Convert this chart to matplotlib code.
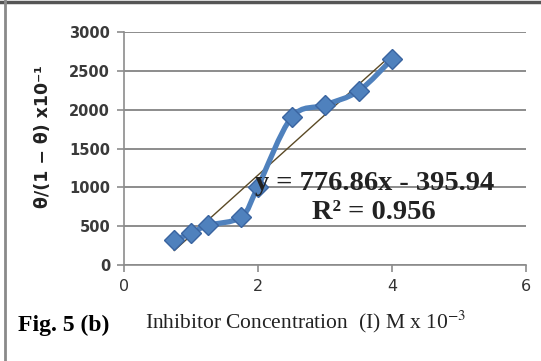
import matplotlib.pyplot as plt
import numpy as np
from matplotlib.path import Path
from matplotlib.patches import PathPatch
from matplotlib.lines import Line2D

# data
conc = [0.75, 1.0, 1.25, 1.75, 2.0, 2.5, 3.0, 3.5, 4.0]
theta_ratio = [320, 410, 510, 620, 1010, 1900, 2060, 2240, 2650]
slope, intercept = 776.86, -395.94
r2 = 0.956

x_ticks = [0, 2, 4, 6]
y_ticks = [0, 500, 1000, 1500, 2000, 2500, 3000]

BLUE = '#4F81BD'
EDGE = '#3A64A0'


def smooth_path(xs, ys):
    """Excel-like smoothed line: Catmull-Rom segments as cubic Beziers."""
    pts = np.column_stack([xs, ys]).astype(float)
    n = len(pts)
    verts = [pts[0]]
    codes = [Path.MOVETO]
    for i in range(n - 1):
        p0 = pts[i - 1] if i > 0 else pts[i]
        p1 = pts[i]
        p2 = pts[i + 1]
        p3 = pts[i + 2] if i + 2 < n else pts[i + 1]
        c1 = p1 + (p2 - p0) / 6.0
        c2 = p2 - (p3 - p1) / 6.0
        verts += [c1, c2, p2]
        codes += [Path.CURVE4] * 3
    return Path(verts, codes)


fig = plt.figure(figsize=(5.41, 3.61), dpi=100)
fig.patch.set_facecolor('white')
ax = fig.add_axes([0.2292, 0.2659, 0.7431, 0.6454])

ax.set_xlim(0, 6)
ax.set_ylim(0, 3000)

# gridlines
ax.set_yticks(y_ticks)
ax.set_xticks(x_ticks)
ax.yaxis.grid(True, color='#8c8c8c', linewidth=1.4)
ax.set_axisbelow(True)

for side in ['top', 'right']:
    ax.spines[side].set_visible(False)
ax.spines['left'].set_color('#8c8c8c')
ax.spines['bottom'].set_color('#8c8c8c')
ax.spines['left'].set_linewidth(1.2)
ax.spines['bottom'].set_linewidth(1.2)

ax.tick_params(axis='y', direction='out', length=5, color='#8c8c8c', width=1.2,
               labelsize=10.5, labelcolor='#3a3a3a', pad=5)
ax.tick_params(axis='x', direction='out', length=5, color='#8c8c8c', width=1.2,
               labelsize=11.5, labelcolor='#333333', pad=5)
for lbl in ax.get_yticklabels():
    lbl.set_fontweight('bold')

# linear trendline
tx = np.array([conc[0], conc[-1]])
ax.plot(tx, slope * tx + intercept, color='#5b4a26', linewidth=1.0, zorder=3)

# smoothed data line + markers
ax.add_patch(PathPatch(smooth_path(conc, theta_ratio), facecolor='none',
                       edgecolor=BLUE, linewidth=3.8, zorder=4))
ax.plot(conc, theta_ratio, linestyle='none', marker='D', markersize=10.5,
        markerfacecolor=BLUE, markeredgecolor=EDGE, markeredgewidth=1, zorder=5)

# equation labels
ax.text(1.95, 966, f'y = {slope}x - {abs(intercept)}', fontsize=20.5,
        fontweight='bold', family='Liberation Serif', color='#222222',
        va='baseline', ha='left', zorder=6)
ax.text(2.8, 593, f'R² = {r2}', fontsize=20.5, fontweight='bold',
        family='Liberation Serif', color='#222222', va='baseline', ha='left', zorder=6)

ax.set_ylabel('θ/(1 − θ) x10⁻¹', fontsize=12.5, fontweight='bold', color='#222222')
ax.yaxis.set_label_coords(-0.178, 0.55)

# caption + x label
fig.text(18 / 541, 1 - 331 / 361, 'Fig. 5 (b)', fontsize=17, fontweight='bold',
         family='Liberation Serif', va='baseline', ha='left')
fig.text(145 / 541, 1 - 328 / 361, 'Inhibitor Concentration  (I) M x 10$^{-3}$',
         fontsize=15.5, family='Liberation Serif', color='#222222',
         va='baseline', ha='left', math_fontfamily='stix')

# outer border (top and left)
fig.add_artist(Line2D([0, 1], [1 - 2 / 361, 1 - 2 / 361], color='#555555',
                      linewidth=2.5, transform=fig.transFigure))
fig.add_artist(Line2D([5 / 541, 5 / 541], [0, 1], color='#8a8a8a',
                      linewidth=2, transform=fig.transFigure))

fig.savefig('out.png', dpi=100)
